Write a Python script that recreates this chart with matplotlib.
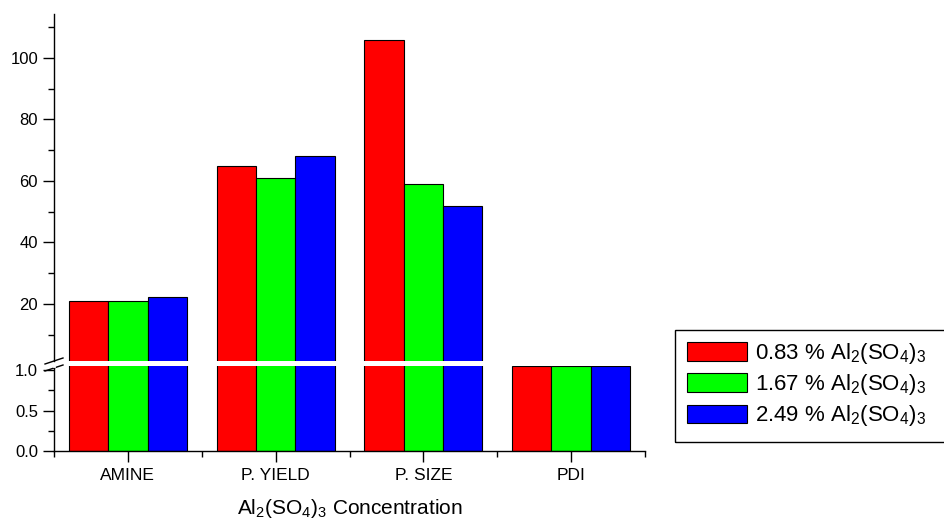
import numpy as np
import matplotlib
matplotlib.use('Agg')
import matplotlib.pyplot as plt
from matplotlib.patches import Rectangle
from matplotlib.ticker import MultipleLocator

plt.rcParams['font.family'] = ['Liberation Sans', 'DejaVu Sans']
plt.rcParams['mathtext.fontset'] = 'custom'
plt.rcParams['mathtext.rm'] = 'Liberation Sans'
plt.rcParams['mathtext.it'] = 'Liberation Sans:italic'

categories = ['AMINE', 'P. YIELD', 'P. SIZE', 'PDI']
series_labels = ['0.83 % Al$_2$(SO$_4$)$_3$',
                 '1.67 % Al$_2$(SO$_4$)$_3$',
                 '2.49 % Al$_2$(SO$_4$)$_3$']
conc_083 = [21, 65, 106, 1.05]
conc_167 = [21, 61, 59, 1.05]
conc_249 = [22.2, 68, 52, 1.05]
series = [conc_083, conc_167, conc_249]
colors = ['#ff0000', '#00ff00', '#0000ff']

W, H = 944, 523
fig = plt.figure(figsize=(W / 100, H / 100), dpi=100)

def fx(px):
    return px / W

def fy(py):
    return 1 - py / H

left, right = fx(54), fx(645)
ax_lo = fig.add_axes([left, fy(451), right - left, fy(366) - fy(451)])
ax_hi = fig.add_axes([left, fy(361), right - left, fy(14) - fy(361)])

x = np.arange(len(categories))
bw = 0.8 / 3
for ax in (ax_lo, ax_hi):
    for i, (vals, c, lab) in enumerate(zip(series, colors, series_labels)):
        ax.bar(x + (i - 1) * bw, vals, bw, color=c, edgecolor='black',
               linewidth=0.8, label=lab)
    ax.set_xlim(-0.5, 3.5)
    ax.spines['right'].set_visible(False)
    ax.spines['top'].set_visible(False)
    ax.tick_params(axis='y', which='major', direction='out', length=8, width=1,
                   labelsize=12)
    ax.tick_params(axis='y', which='minor', direction='out', length=4.5, width=1)
    ax.spines['left'].set_linewidth(1)

ax_lo.set_ylim(0, 1.05)
ax_lo.yaxis.set_major_locator(MultipleLocator(0.5))
ax_lo.yaxis.set_minor_locator(MultipleLocator(0.25))
ax_lo.yaxis.set_major_formatter(matplotlib.ticker.FormatStrFormatter('%.1f'))
ax_lo.set_xticks(x)
ax_lo.set_xticklabels(categories, fontsize=12.5)
ax_lo.set_xticks(np.arange(-0.5, 4, 1), minor=True)
ax_lo.tick_params(axis='x', which='major', direction='out', length=8, width=1, pad=4)
ax_lo.tick_params(axis='x', which='minor', direction='out', length=4.5, width=1)
ax_lo.spines['bottom'].set_linewidth(1)
ax_lo.set_xlabel('Al$_2$(SO$_4$)$_3$ Concentration', fontsize=15, labelpad=10)

ax_hi.set_ylim(1.46, 114.3)
ax_hi.yaxis.set_major_locator(MultipleLocator(20))
ax_hi.yaxis.set_minor_locator(MultipleLocator(10))
ax_hi.set_yticks([20, 40, 60, 80, 100])
ax_hi.spines['bottom'].set_visible(False)
ax_hi.tick_params(axis='x', which='both', bottom=False, labelbottom=False)

# break marks on the y axis
for py in (361, 368):
    fig.add_artist(plt.Line2D([fx(45), fx(63)], [fy(py + 3), fy(py - 3)],
                              color='black', lw=1))
fig.add_artist(plt.Line2D([fx(54), fx(54)], [fy(364), fy(366)], color='white', lw=2))

# legend
handles, labels = ax_lo.get_legend_handles_labels()
fig.legend(handles, labels, loc='upper left', bbox_to_anchor=(fx(687), fy(341)),
           frameon=False, fontsize=16, handlelength=2.7, handleheight=0.9,
           handletextpad=0.36, labelspacing=0.28, borderpad=0, borderaxespad=0)
fig.add_artist(Rectangle((fx(675), fy(442)), 0.5, fy(330) - fy(442),
                         transform=fig.transFigure, fill=False,
                         edgecolor='black', lw=1))

fig.savefig('out.png', dpi=100)
